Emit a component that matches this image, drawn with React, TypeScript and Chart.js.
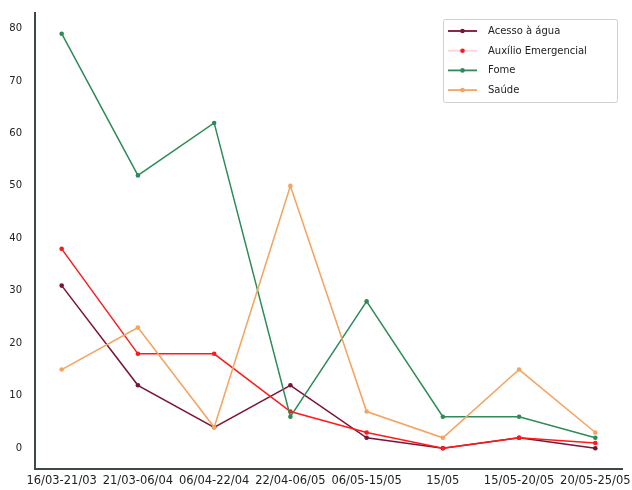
import React, { useEffect, useRef } from "react";
import { Chart, registerables } from "chart.js";
Chart.register(...registerables);

const categories = [
  "16/03-21/03",
  "21/03-06/04",
  "06/04-22/04",
  "22/04-06/05",
  "06/05-15/05",
  "15/05",
  "15/05-20/05",
  "20/05-25/05",
];
const seriesNames = ["Acesso à água", "Auxílio Emergencial", "Fome", "Saúde"];
const acessoAgua = [31, 12, 4, 12, 2, 0, 2, 0];
const auxilioEmergencial = [38, 18, 18, 7, 3, 0, 2, 1];
const fome = [79, 52, 62, 6, 28, 6, 6, 2];
const saude = [15, 23, 4, 50, 7, 2, 15, 3];
const yTickValues = [0, 10, 20, 30, 40, 50, 60, 70, 80];

const colors = ["#7a1434", "#ff1a1a", "#2e8b57", "#f4a460"];
const legendLineColors = ["#7a1434", "#ffd4d4", "#2e8b57", "#f4a460"];
const FONT = "DejaVu Sans";

const legendPlugin = {
  id: "boxLegend",
  afterDraw(chart: any) {
    const ctx = chart.ctx;
    const x0 = 443, y0 = 19, w = 174, h = 83;
    ctx.save();
    ctx.fillStyle = "rgba(255,255,255,0.9)";
    ctx.strokeStyle = "#d0d0d0";
    ctx.lineWidth = 1;
    ctx.beginPath();
    (ctx as any).roundRect(x0 + 0.5, y0 + 0.5, w, h, 2);
    ctx.fill();
    ctx.stroke();
    ctx.font = `10px "${FONT}"`;
    ctx.textBaseline = "middle";
    ctx.textAlign = "left";
    chart.data.datasets.forEach((ds: any, i: number) => {
      const y = y0 + 12 + i * 19.7;
      ctx.strokeStyle = legendLineColors[i];
      ctx.lineWidth = 1.8;
      ctx.beginPath();
      ctx.moveTo(448, y);
      ctx.lineTo(477, y);
      ctx.stroke();
      ctx.fillStyle = colors[i];
      ctx.beginPath();
      ctx.arc(462.5, y, 2.3, 0, Math.PI * 2);
      ctx.fill();
      ctx.fillStyle = "#222";
      ctx.fillText(ds.label, 488, y + 0.5);
    });
    ctx.restore();
  },
};

export default function App() {
  const ref = useRef<HTMLCanvasElement | null>(null);
  useEffect(() => {
    if (!ref.current) return;
    const seriesData = [acessoAgua, auxilioEmergencial, fome, saude];
    const chart = new Chart(ref.current, {
      type: "line",
      data: {
        datasets: seriesData.map((arr, i) => ({
          label: seriesNames[i],
          data: arr.map((v, j) => ({ x: j, y: v })),
          borderColor: colors[i],
          backgroundColor: colors[i],
          borderWidth: 1.5,
          pointRadius: 2.3,
          pointBorderWidth: 0,
          pointBackgroundColor: colors[i],
          tension: 0,
          order: 3 - i,
        })),
      },
      options: {
        animation: false,
        responsive: false,
        layout: { padding: { top: 13, right: 10, left: 0, bottom: 0 } },
        plugins: { legend: { display: false }, tooltip: { enabled: false } },
        scales: {
          x: {
            type: "linear",
            min: -0.35,
            max: 7.35,
            grid: { display: false, drawTicks: false },
            border: { display: true, color: "#3e4a40", width: 2 },
            afterBuildTicks: (scale: any) => {
              scale.ticks = categories.map((_, i) => ({ value: i }));
            },
            afterFit: (scale: any) => {
              scale.height = 21;
              scale.paddingLeft = 0;
              scale.paddingRight = 0;
            },
            ticks: {
              autoSkip: false,
              maxRotation: 0,
              minRotation: 0,
              padding: 5,
              color: "#222",
              font: { family: FONT, size: 11.5 },
              callback: (v: any) => categories[v as number],
            },
          },
          y: {
            type: "linear",
            min: -3.95,
            max: 82.95,
            grid: { display: false, drawTicks: false },
            border: { display: true, color: "#3e4a40", width: 2 },
            afterBuildTicks: (scale: any) => {
              scale.ticks = yTickValues.map((v) => ({ value: v }));
            },
            afterFit: (scale: any) => {
              scale.width = 35;
              scale.paddingTop = 0;
              scale.paddingBottom = 0;
            },
            ticks: {
              padding: 13,
              color: "#222",
              font: { family: FONT, size: 10 },
              callback: (v: any) => String(v),
            },
          },
        },
      },
      plugins: [legendPlugin],
    });
    return () => chart.destroy();
  }, []);
  return (
    <div style={{ position: "fixed", left: 0, top: 0, width: 632, height: 490, background: "#fff" }}>
      <canvas ref={ref} width={632} height={490} />
    </div>
  );
}
